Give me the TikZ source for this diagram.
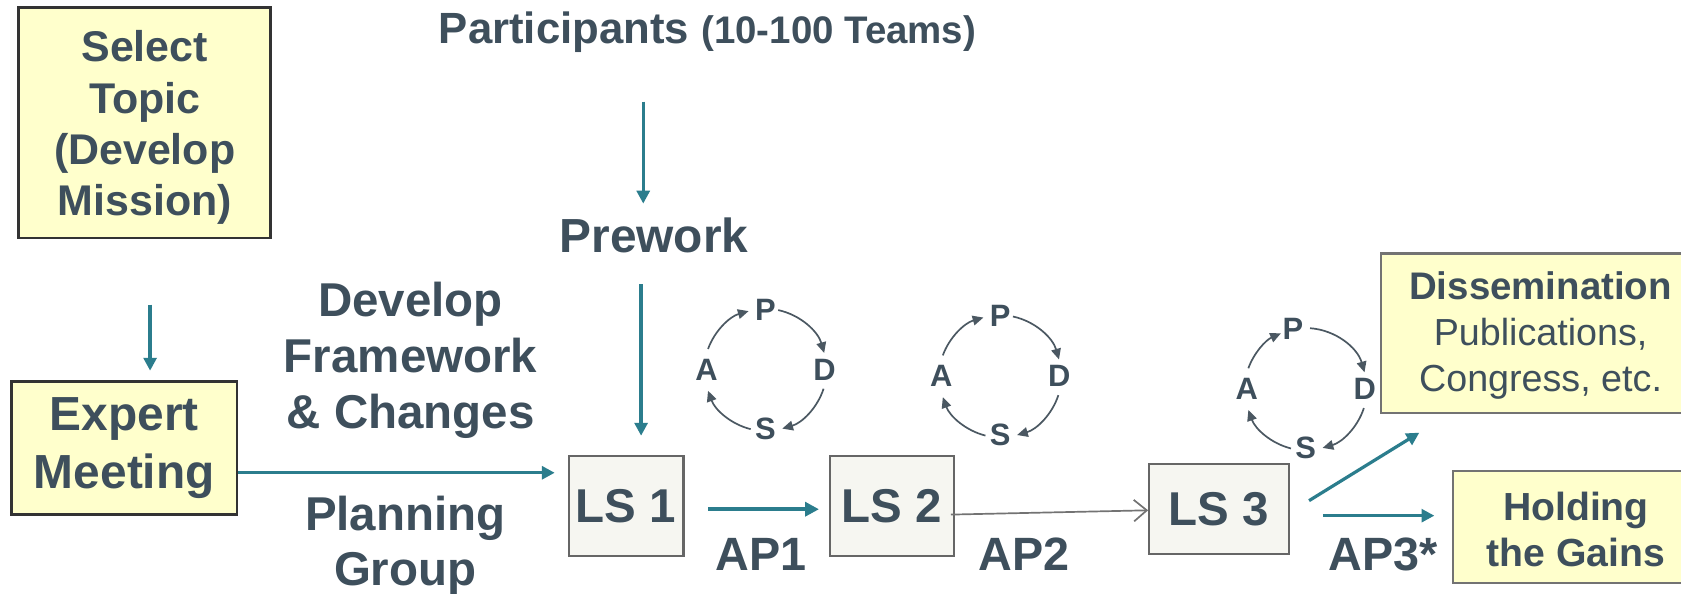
\documentclass[tikz,border=0pt]{standalone}
\usepackage{fontspec}
\setmainfont{Liberation Sans}
\usetikzlibrary{arrows.meta,calc}
\definecolor{txt}{HTML}{3E4F5C}
\definecolor{tealc}{HTML}{2B7D8D}
\definecolor{boxy}{HTML}{FFFFCC}
\definecolor{lsfill}{HTML}{F6F6F1}
\definecolor{arcc}{HTML}{4B5862}
% #1 suffix, #2 centre, #3 x-offset of P, #4 end angle of A->P arc, #5 start angle of P->D arc
\newcommand\pdsacycle[5]{%
  \coordinate (c#1) at #2;
  \node[pdsal] (p#1) at ($(c#1)+(#3,-56)$) {P};
  \node[pdsal] (d#1) at ($(c#1)+(55,0)$) {D};
  \node[pdsal] (s#1) at ($(c#1)+(0,55)$) {S};
  \node[pdsal] (a#1) at ($(c#1)+(-55,0)$) {A};
  \draw[pdsaarc] ($(c#1)+(-160:57)$) arc[start angle=-160,end angle=#4,radius=57];
  \draw[pdsaarc] ($(c#1)+(#5:57)$) arc[start angle=#5,end angle=-16,radius=57];
  \draw[pdsaarc] ($(c#1)+(18:57)$) arc[start angle=18,end angle=74,radius=57];
  \draw[pdsaarc] ($(c#1)+(104:57)$) arc[start angle=104,end angle=160,radius=57];
}
\begin{document}
\begin{tikzpicture}[x=0.1mm,y=-0.1mm,
  every node/.style={text=txt, align=center, inner sep=0pt},
  ybox/.style={draw=black!80, fill=boxy, line width=0.7pt},
  gbox/.style={draw=black!55, fill=boxy, line width=0.6pt},
  lsbox/.style={draw=black!60, fill=lsfill, line width=0.6pt, font=\fontsize{12.6}{15}\selectfont\bfseries},
  big/.style={font=\fontsize{12.6}{14.8}\selectfont\bfseries},
  aplabel/.style={font=\fontsize{12.4}{14}\selectfont\bfseries},
  tarrow/.style={draw=tealc, line width=0.85pt, -{Triangle[length=1.2mm,width=1.2mm]}},
  thick arrow/.style={draw=tealc, line width=1.1pt, -{Triangle[length=1.3mm,width=1.3mm]}},
  grayarrow/.style={draw=black!55, line width=0.45pt, -{Straight Barb[length=1.2mm,width=2mm]}},
  pdsal/.style={font=\fontsize{8.2}{9}\selectfont\bfseries},
  pdsaarc/.style={draw=arcc, line width=0.45pt, -{Triangle[length=1mm,width=0.9mm]}},
]
\useasboundingbox[fill=white] (0,0) rectangle (1568,554);

% boxes
\node[ybox, minimum width=23.5mm, minimum height=21.5mm] (sel) at (135,114.5) {};
\node[font=\fontsize{11.4}{13.6}\selectfont\bfseries] (selt) at (135,119)
      {Select\\Topic\\(Develop\\Mission)};
\node[ybox, minimum width=21mm, minimum height=12.4mm,
      font=\fontsize{12.7}{15.6}\selectfont\bfseries] (exp) at (116,418)
      {Expert\\Meeting};
\node[big] (dev) at (383,336) {Develop\\Framework\\\& Changes};
\node[big] (plan) at (378,509) {Planning\\Group};
\node (part) at (660,30) {\fontsize{11.6}{13}\selectfont\bfseries Participants
      {\fontsize{10.2}{13}\selectfont (10-100 Teams)}};
\node[font=\fontsize{12.7}{14.8}\selectfont\bfseries] (pre) at (610,220) {Prework};

\node[lsbox, minimum width=10.7mm, minimum height=9.3mm] (ls1) at (584,472) {LS 1};
\node[lsbox, minimum width=11.6mm, minimum height=9.3mm] (ls2) at (832,472) {LS 2};
\node[lsbox, minimum width=13mm, minimum height=8.4mm] (ls3) at (1137,475) {LS 3};

\node[gbox, minimum width=30mm, minimum height=14.9mm] (dis) at (1438,311) {};
\node[font=\fontsize{10}{12.2}\selectfont] (dist) at (1437,313)
      {{\fontsize{10.2}{12.2}\selectfont\bfseries Dissemination}\\Publications,\\Congress, etc.};
\node[gbox, minimum width=23mm, minimum height=10.5mm] (hold) at (1470,491.5) {};
\node[font=\fontsize{10.4}{12.4}\selectfont\bfseries] (holdt) at (1470,494)
      {Holding\\the Gains};

\node[aplabel] (ap1) at (710,517) {AP1};
\node[aplabel] (ap2) at (955,517) {AP2};
\node[aplabel] (ap3) at (1290,517) {AP3*};

% connectors
\draw[tarrow, shorten <=6.1mm, shorten >=0.9mm] (sel.south -| 140,0) -- (exp.north -| 140,0);
\draw[tarrow, shorten >=1.2mm] (exp.east |- 0,441) -- (ls1.west |- 0,441);
\draw[tarrow, shorten <=4.5mm, shorten >=1.3mm] (part.south -| 600,0) -- (pre.north -| 600,0);
\draw[tarrow, shorten <=2.8mm, shorten >=1.8mm] (pre.south -| 598,0) -- (ls1.north -| 598,0);
\draw[thick arrow, shorten <=2.2mm, shorten >=0.9mm] (ls1.east |- 0,475) -- (ls2.west |- 0,475);
\draw[grayarrow] ([xshift=-0.4mm,yshift=-0.8mm]ls2.east) -- ([yshift=-0.1mm]ls3.west);
\draw[tarrow] ([xshift=1.8mm,yshift=0.8mm]ls3.east) -- ([xshift=3.7mm,yshift=-1.7mm]dis.south west);
\draw[tarrow, shorten <=3.1mm, shorten >=1.6mm] (ls3.east |- 0,481) -- (hold.west |- 0,481);

% PDSA cycles
\pdsacycle{1}{(714,345)}{0}{-106}{-78}
\pdsacycle{2}{(933,351)}{0}{-106}{-78}
\pdsacycle{3}{(1218,363)}{-12}{-114}{-86}
\end{tikzpicture}
\end{document}
